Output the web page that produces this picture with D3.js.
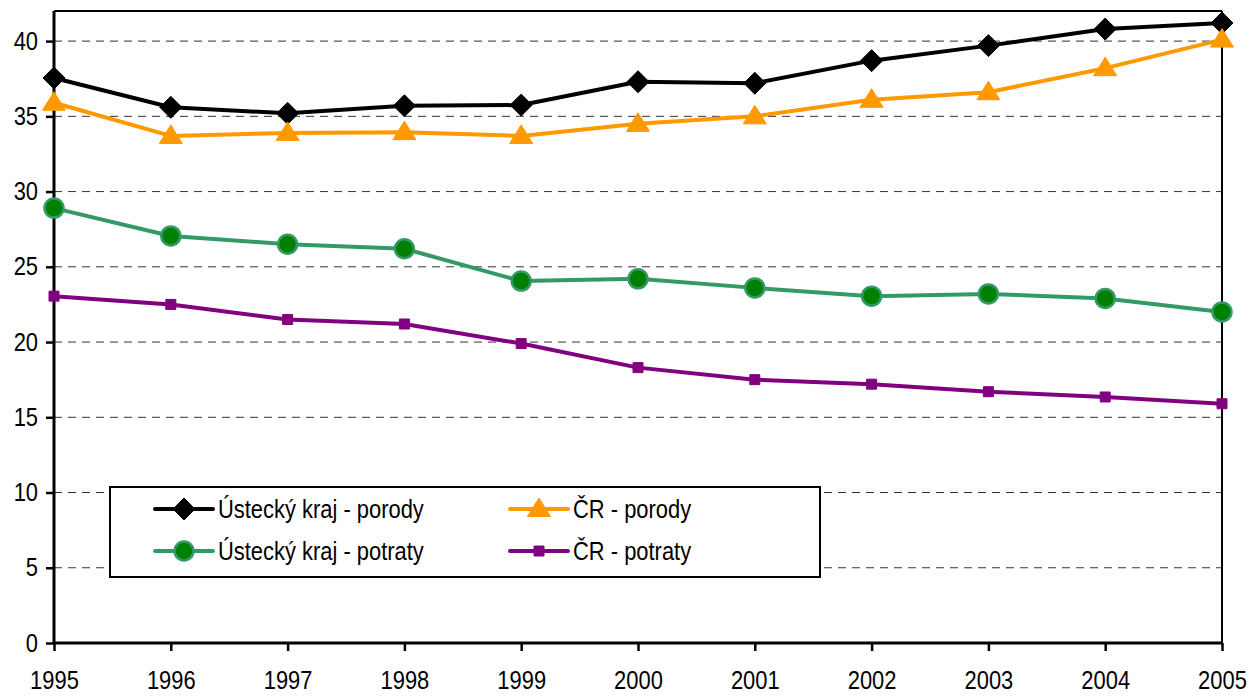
<!DOCTYPE html>
<html><head><meta charset="utf-8">
<script src="https://cdn.jsdelivr.net/npm/d3@7/dist/d3.min.js"></script>
<style>
body{margin:0;background:#fff;}
text{font-family:"Liberation Sans",Arial,sans-serif;}
</style></head>
<body><svg id="c" width="1255" height="698"></svg>
<script>
const years = [1995,1996,1997,1998,1999,2000,2001,2002,2003,2004,2005];
const ustiPorody = [37.55,35.6,35.2,35.7,35.75,37.3,37.2,38.7,39.7,40.8,41.2];
const crPorody = [35.9,33.7,33.9,33.95,33.7,34.5,35.0,36.1,36.6,38.2,40.1];
const ustiPotraty = [28.9,27.05,26.5,26.2,24.05,24.2,23.6,23.05,23.2,22.9,22.0];
const crPotraty = [23.05,22.5,21.5,21.2,19.9,18.3,17.5,17.2,16.7,16.35,15.9];
const yTicks = [0,5,10,15,20,25,30,35,40];
const seriesNames = ["Ústecký kraj - porody","ČR - porody","Ústecký kraj - potraty","ČR - potraty"];

const SX = 0.86; // horizontal condensing to mimic a narrow font
const FS = "25.5px";
const svg = d3.select("#c");
const L=54, R=1222, T=11, B=643;
const x = d3.scalePoint().domain(years).range([L,R]);
const y = d3.scaleLinear().domain([0,42]).range([B,T]);

// gridlines
svg.append("g").selectAll("line").data(yTicks.filter(d=>d>0)).join("line")
  .attr("x1",L).attr("x2",R).attr("y1",d=>y(d)).attr("y2",d=>y(d))
  .attr("stroke","#333").attr("stroke-width",1).attr("stroke-dasharray","8,6");

// frame top/right
svg.append("line").attr("x1",L).attr("x2",R).attr("y1",T).attr("y2",T).attr("stroke","#000").attr("stroke-width",2);
svg.append("line").attr("x1",R).attr("x2",R).attr("y1",T).attr("y2",B).attr("stroke","#000").attr("stroke-width",2);

// axes
const yAxis = svg.append("g").attr("transform",`translate(${L},0)`)
  .call(d3.axisLeft(y).tickValues(yTicks).tickSize(8).tickPadding(0));
const xAxis = svg.append("g").attr("transform",`translate(0,${B})`)
  .call(d3.axisBottom(x).tickValues(years).tickSize(8).tickPadding(20).tickFormat(d3.format("d")));
[yAxis,xAxis].forEach(a=>{
  a.select(".domain").attr("stroke","#000").attr("stroke-width",3);
  a.selectAll(".tick line").attr("stroke","#000").attr("stroke-width",2.5);
  a.selectAll(".tick text").attr("fill","#000").style("font-size",FS)
   .style("font-family",'"Liberation Sans",Arial,sans-serif')
   .attr("transform",`scale(${SX},1)`);
});
yAxis.selectAll(".tick text").attr("x",-16/SX);
yAxis.select(".domain").attr("d",`M0,${B}V${T}`);
xAxis.select(".domain").attr("d",`M${L},0H${R}`);

const series = [
  {name:seriesNames[0], vals:ustiPorody, color:"#000", marker:"diamond", fill:"#000", stroke:"#000"},
  {name:seriesNames[1], vals:crPorody, color:"#FF9900", marker:"triangle", fill:"#FF9900", stroke:"#FF9900"},
  {name:seriesNames[2], vals:ustiPotraty, color:"#339966", marker:"circle", fill:"#008000", stroke:"#339966"},
  {name:seriesNames[3], vals:crPotraty, color:"#800080", marker:"square", fill:"#800080", stroke:"#800080"}
];
const markerPath = {
  diamond:"M0,-11L11,0L0,11L-11,0Z",
  triangle:"M0,-11L11.5,7.5L-11.5,7.5Z",
  circle:d3.symbol().type(d3.symbolCircle).size(Math.PI*9.5*9.5)(),
  square:"M-5,-5H5V5H-5Z"
};
const line = d3.line().x((d,i)=>x(years[i])).y(d=>y(d));

function drawMarker(g, s, cx, cy){
  g.append("path").attr("d", markerPath[s.marker])
    .attr("transform",`translate(${cx},${cy})`)
    .attr("fill",s.fill).attr("stroke",s.stroke).attr("stroke-width", s.marker==="circle"?2.5:1);
}

series.forEach(s=>{
  const g = svg.append("g");
  g.append("path").datum(s.vals).attr("d",line).attr("fill","none")
    .attr("stroke",s.color).attr("stroke-width",4).attr("stroke-linejoin","round");
  s.vals.forEach((v,i)=>drawMarker(g,s,x(years[i]),y(v)));
});

// legend
const lg = svg.append("g");
lg.append("rect").attr("x",110).attr("y",487).attr("width",710).attr("height",90)
  .attr("fill","#fff").attr("stroke","#000").attr("stroke-width",2);
const pos = [[155,509],[510,509],[155,551],[510,551]];
series.forEach((s,i)=>{
  const [lx,ly]=pos[i];
  lg.append("line").attr("x1",lx).attr("x2",lx+58).attr("y1",ly).attr("y2",ly)
    .attr("stroke",s.color).attr("stroke-width",4).attr("stroke-linecap","round");
  drawMarker(lg,s,lx+29,ly);
  lg.append("text").attr("transform",`translate(${lx+63},${ly+9}) scale(${SX},1)`).text(s.name)
    .style("font-size",FS).attr("fill","#000");
});
</script></body></html>
